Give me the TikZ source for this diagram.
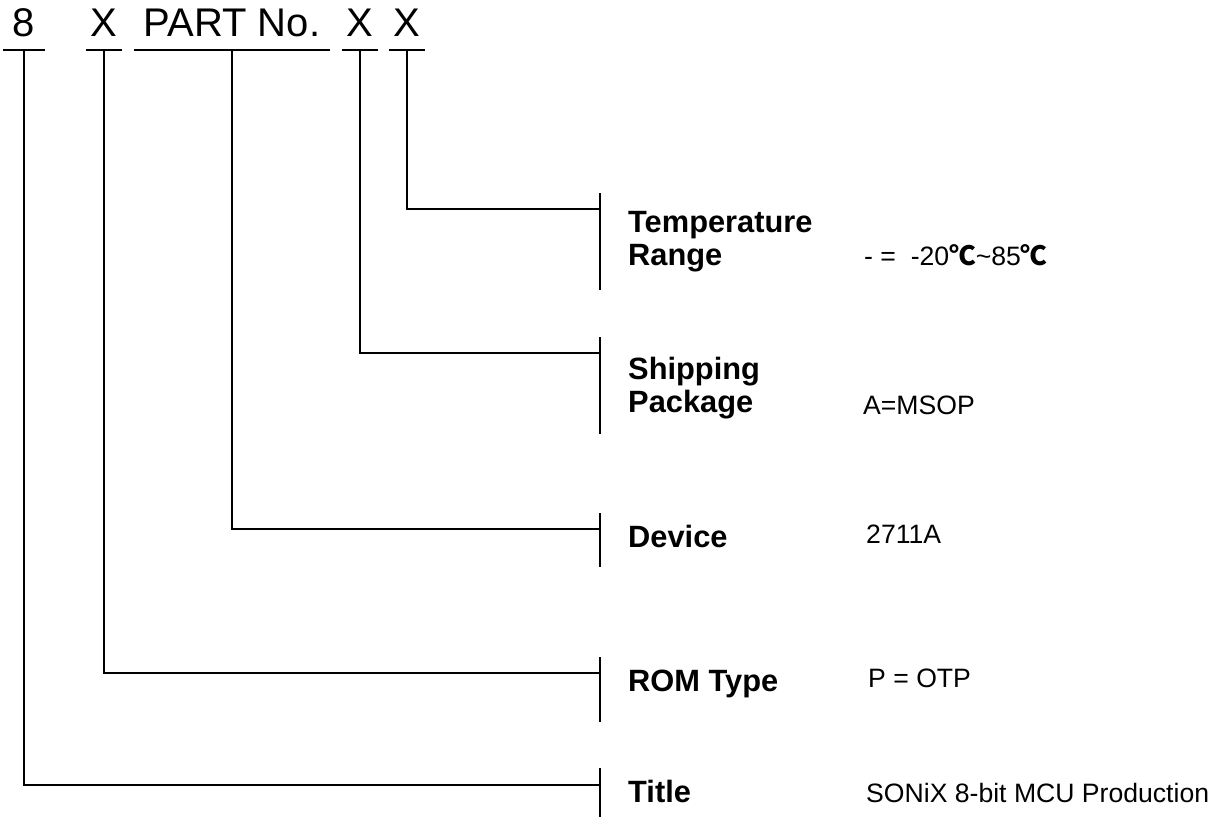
\documentclass[tikz,border=0pt]{standalone}
\usepackage{fontspec}
\setmainfont{Liberation Sans}
\newfontfamily\cjk{Noto Sans CJK SC}
\usetikzlibrary{positioning}

\begin{document}
\begin{tikzpicture}[x=0.5pt,y=-0.5pt,line width=1.2pt]
      \tikzstyle{d}=[font=\fontsize{20}{24}\selectfont,inner xsep=0pt,inner ysep=6pt,
                     text depth=0pt,anchor=south]
      \tikzstyle{f}=[font=\fontsize{15.4}{16.5}\selectfont\bfseries,align=left,
                     anchor=base west,inner sep=0pt]
      \tikzstyle{v}=[font=\fontsize{13.3}{15}\selectfont,anchor=base west,inner sep=0pt]
      \useasboundingbox (0,0) rectangle (1220,816);
      % part number fields
      \node[d,minimum width=20pt] (n8) at (24,50) {8};
      \node[d,minimum width=17pt] (rom) at (104,50) {X};
      \node[d,minimum width=97pt] (dev) at (232,50) {PART No.};
      \node[d,minimum width=17pt] (pkg) at (360,50) {X};
      \node[d,minimum width=16.5pt] (tmp) at (407,50) {X};
      \foreach \n in {n8,rom,dev,pkg,tmp}
        \draw (\n.south west)--(\n.south east);
      % bar joints
      \coordinate (bT) at (600,209);
      \coordinate (bP) at (600,353);
      \coordinate (bD) at (600,529);
      \coordinate (bR) at (600,673);
      \coordinate (bN) at (600,785);
      \draw (bT) ++(0,-16) -- ++(0,97);
      \draw (bP) ++(0,-16) -- ++(0,97);
      \draw (bD) ++(0,-16) -- ++(0,54);
      \draw (bR) ++(0,-16) -- ++(0,65);
      \draw (bN) ++(0,-17) -- ++(0,52);
      \draw (tmp.south)|-(bT);
      \draw (pkg.south)|-(bP);
      \draw (dev.south)|-(bD);
      \draw (rom.south)|-(bR);
      \draw (n8.south)|-(bN);
      % labels (base = last line)
      \node[f] (lT) at (627,265) {Temperature\\Range};
      \node[f] (lP) at (627,412) {Shipping\\Package};
      \node[f] (lD) at (627,547) {Device};
      \node[f] (lR) at (627,691) {ROM Type};
      \node[f] (lN) at (627,802) {Title};
      % values
      \node[v] (vT) at (863,265) {- =\ \ -20{\cjk\bfseries ℃}\textasciitilde85{\cjk\bfseries ℃}};
      \node[v] (vP) at (862,414) {A=MSOP};
      \node[v] (vD) at (865,543) {2711A};
      \node[v] (vR) at (867,687) {P = OTP};
      \node[v] (vN) at (865,802) {SONiX 8-bit MCU Production};
    \end{tikzpicture}
\end{document}
